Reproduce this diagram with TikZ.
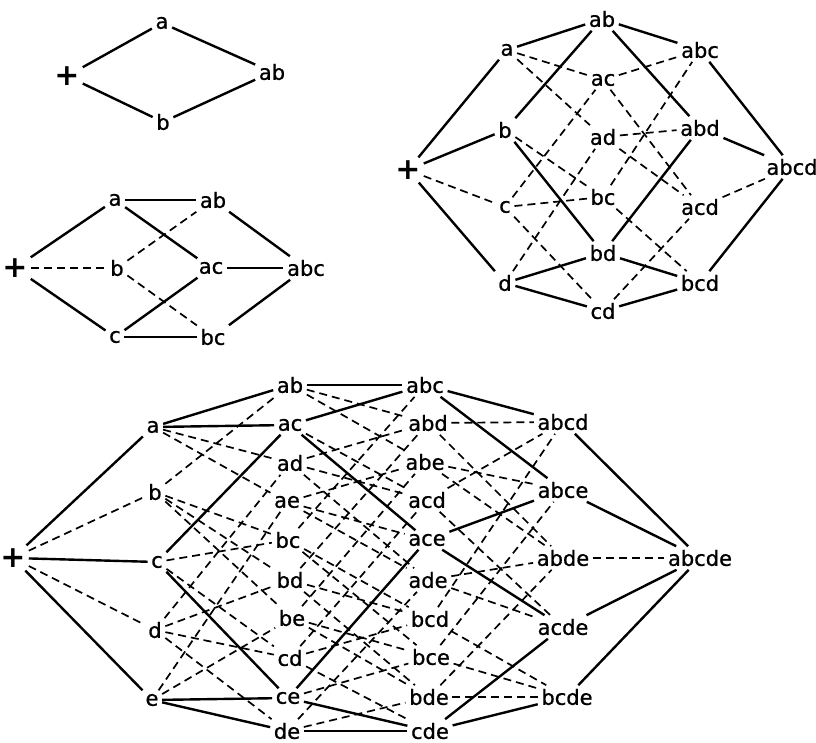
\documentclass[tikz,border=0pt]{standalone}
\usepackage{fontspec}
\setmainfont{DejaVu Sans}
\newfontfamily\labfont[FakeBold=0.8]{DejaVu Sans}
\begin{document}
\begin{tikzpicture}[x=1pt,y=-1pt,
  lab/.style={inner sep=3.5pt, font=\labfont\fontsize{21}{24}\selectfont},
  pl/.style={inner sep=3pt, font=\fontsize{30}{32}\selectfont\bfseries},
  sl/.style={line width=2.4pt},
  dl/.style={line width=1.7pt, dash pattern=on 8pt off 5pt}]
\useasboundingbox (0,0) rectangle (816,743);
% ---------- 2 elements ----------
\node[pl]  (A0)  at (67,76)  {+};
\node[lab] (Aa)  at (162,23) {a};
\node[lab] (Ab)  at (163,122) {b};
\node[lab] (Aab) at (272,72) {ab};
\foreach \p/\q in {A0/Aa, A0/Ab, Aa/Aab, Ab/Aab} \draw[sl] (\p) -- (\q);
% ---------- 3 elements ----------
\node[pl]  (B0)   at (15,268)  {+};
\node[lab] (Ba)   at (115,200) {a};
\node[lab] (Bb)   at (117,268) {b};
\node[lab] (Bc)   at (115,337) {c};
\node[lab] (Bab)  at (213,200) {ab};
\node[lab] (Bac)  at (211,268) {ac};
\node[lab] (Bbc)  at (213,337) {bc};
\node[lab] (Babc) at (306,268) {abc};
\foreach \p/\q in {B0/Ba, B0/Bc, Ba/Bab, Ba/Bac, Bc/Bac, Bc/Bbc, Bab/Babc, Bac/Babc, Bbc/Babc}
  \draw[sl] (\p) -- (\q);
\foreach \p/\q in {B0/Bb, Bb/Bab, Bb/Bbc}
  \draw[dl] (\p) -- (\q);
% ---------- 4 elements ----------
\node[pl]  (C0)    at (408,170) {+};
\node[lab] (Ca)    at (507,50)  {a};
\node[lab] (Cb)    at (505,130) {b};
\node[lab] (Cc)    at (505,207) {c};
\node[lab] (Cd)    at (505,283) {d};
\node[lab] (Cab)   at (602,19)  {ab};
\node[lab] (Cac)   at (603,80)  {ac};
\node[lab] (Cad)   at (603,137) {ad};
\node[lab] (Cbc)   at (603,197) {bc};
\node[lab] (Cbd)   at (603,253) {bd};
\node[lab] (Ccd)   at (603,311) {cd};
\node[lab] (Cabc)  at (700,50)  {abc};
\node[lab] (Cabd)  at (700,128) {abd};
\node[lab] (Cacd)  at (700,207) {acd};
\node[lab] (Cbcd)  at (700,283) {bcd};
\node[lab] (Cabcd) at (792,167) {abcd};
\foreach \p/\q in {C0/Ca, C0/Cb, C0/Cd, Ca/Cab, Cb/Cab, Cb/Cbd, Cd/Cbd, Cd/Ccd,
  Cab/Cabc, Cab/Cabd, Cbd/Cabd, Cbd/Cbcd, Ccd/Cbcd, Cabc/Cabcd, Cabd/Cabcd, Cbcd/Cabcd}
  \draw[sl] (\p) -- (\q);
\foreach \p/\q in {C0/Cc, Ca/Cac, Ca/Cad, Cb/Cbc, Cc/Cac, Cc/Cbc, Cc/Ccd, Cd/Cad,
  Cac/Cabc, Cac/Cacd, Cad/Cabd, Cad/Cacd, Cbc/Cabc, Cbc/Cbcd, Ccd/Cacd, Cacd/Cabcd}
  \draw[dl] (\p) -- (\q);
% ---------- 5 elements ----------
\node[pl]  (D0)  at (13,558)  {+};
\node[lab] (Da)  at (153,427) {a};
\node[lab] (Db)  at (155,492) {b};
\node[lab] (Dc)  at (157,562) {c};
\node[lab] (Dd)  at (155,630) {d};
\node[lab] (De)  at (152,700) {e};
\node[lab] (Dab) at (290,385) {ab};
\node[lab] (Dac) at (290,425) {ac};
\node[lab] (Dad) at (290,463) {ad};
\node[lab] (Dae) at (287,502) {ae};
\node[lab] (Dbc) at (288,540) {bc};
\node[lab] (Dbd) at (290,580) {bd};
\node[lab] (Dbe) at (292,618) {be};
\node[lab] (Dcd) at (290,658) {cd};
\node[lab] (Dce) at (288,698) {ce};
\node[lab] (Dde) at (287,731) {de};
\node[lab] (Dabc) at (425,385) {abc};
\node[lab] (Dabd) at (428,423) {abd};
\node[lab] (Dabe) at (425,462) {abe};
\node[lab] (Dacd) at (427,500) {acd};
\node[lab] (Dace) at (427,540) {ace};
\node[lab] (Dade) at (428,580) {ade};
\node[lab] (Dbcd) at (430,619) {bcd};
\node[lab] (Dbce) at (431,657) {bce};
\node[lab] (Dbde) at (429,697) {bde};
\node[lab] (Dcde) at (430,731) {cde};
\node[lab] (Dabcd) at (563,422) {abcd};
\node[lab] (Dabce) at (563,490) {abce};
\node[lab] (Dabde) at (563,558) {abde};
\node[lab] (Dacde) at (563,627) {acde};
\node[lab] (Dbcde) at (567,697) {bcde};
\node[lab] (Dabcde) at (700,558) {abcde};
\foreach \p/\q in {D0/Da, D0/Dc, D0/De, Da/Dab, Da/Dac, Dc/Dac, Dc/Dce, De/Dce, De/Dde,
  Dab/Dabc, Dac/Dabc, Dac/Dace, Dce/Dace, Dce/Dcde, Dde/Dcde,
  Dabc/Dabcd, Dabc/Dabce, Dace/Dabce, Dace/Dacde, Dcde/Dacde, Dcde/Dbcde,
  Dabcd/Dabcde, Dabce/Dabcde, Dacde/Dabcde, Dbcde/Dabcde}
  \draw[sl] (\p) -- (\q);
\foreach \p/\q in {D0/Db, D0/Dd, Da/Dad, Da/Dae, Db/Dab, Db/Dbc, Db/Dbd, Db/Dbe,
  Dc/Dbc, Dc/Dcd, Dd/Dad, Dd/Dbd, Dd/Dcd, Dd/Dde, De/Dae, De/Dbe,
  Dab/Dabd, Dab/Dabe, Dac/Dacd, Dad/Dabd, Dad/Dacd, Dad/Dade,
  Dae/Dabe, Dae/Dace, Dae/Dade, Dbc/Dabc, Dbc/Dbcd, Dbc/Dbce,
  Dbd/Dabd, Dbd/Dbcd, Dbd/Dbde, Dbe/Dabe, Dbe/Dbce, Dbe/Dbde,
  Dcd/Dacd, Dcd/Dbcd, Dcd/Dcde, Dce/Dbce, Dde/Dade, Dde/Dbde,
  Dabd/Dabcd, Dabd/Dabde, Dabe/Dabce, Dabe/Dabde, Dacd/Dabcd, Dacd/Dacde,
  Dade/Dabde, Dade/Dacde, Dbcd/Dabcd, Dbcd/Dbcde, Dbce/Dabce, Dbce/Dbcde,
  Dbde/Dabde, Dbde/Dbcde, Dabde/Dabcde}
  \draw[dl] (\p) -- (\q);
\end{tikzpicture}
\end{document}
